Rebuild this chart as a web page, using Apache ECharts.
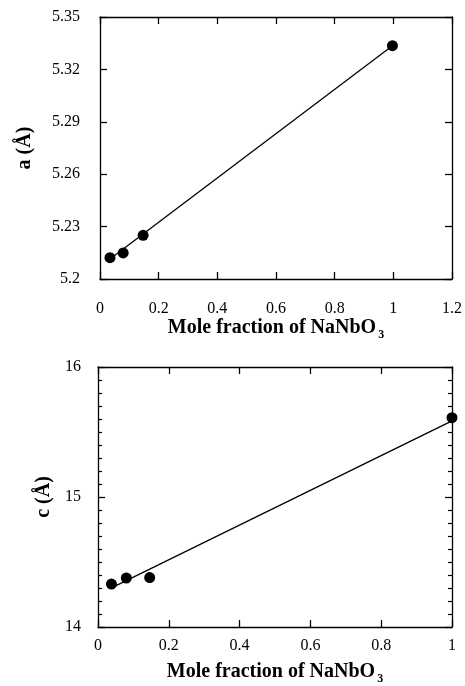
<!DOCTYPE html>
<html>
<head>
<meta charset="utf-8">
<script src="https://cdn.jsdelivr.net/npm/echarts@6/dist/echarts.min.js"></script>
<style>
  html, body { margin: 0; padding: 0; background: #fff; }
  #container { width: 465px; height: 686px; }
</style>
</head>
<body>
<div id="container"></div>
<script>
// 上图: 晶格参数 a
var fractionA = [0.034, 0.079, 0.147, 0.997]
var valuesA = [5.2122, 5.2149, 5.2250, 5.3336]
var fitA = [[0.034, 5.2115], [0.997, 5.3336]]

// 下图: 晶格参数 c
var fractionC = [0.038, 0.080, 0.146, 1.0]
var valuesC = [14.33, 14.377, 14.38, 15.61]
var fitC = [[0.041, 14.305], [1.0, 15.585]]

var font = 'Liberation Serif'

var pairs = function (xs, ys) {
    var out = []
    for (let i = 0; i < xs.length; i++) {
        out.push([xs[i], ys[i]])
    }
    return out
}

var axisBase = function () {
    return {
        axisLine: { show: true, onZero: false, lineStyle: { color: '#000', width: 1.3 } },
        axisTick: { show: true, inside: true, length: 7, lineStyle: { color: '#000', width: 1.3 } },
        splitLine: { show: false },
        axisLabel: { color: '#000', fontFamily: font, fontSize: 16 },
    }
}

var titleStyle = {
    color: '#000', fontFamily: font, fontSize: 20, fontWeight: 'bold',
    rich: {
        sub: { fontFamily: font, fontSize: 12, fontWeight: 'bold', padding: [14, 0, 0, 2] },
    },
}

var makeX = function (grid, min, max, margin, gap, mirror) {
    var a = axisBase()
    a.type = 'value'
    a.gridIndex = grid
    a.min = min
    a.max = max
    a.interval = 0.2
    if (mirror) {
        a.position = 'top'
        a.axisLabel.show = false
    } else {
        a.position = 'bottom'
        a.name = 'Mole fraction of NaNbO{sub|3}'
        a.nameLocation = 'middle'
        a.nameGap = gap
        a.nameTextStyle = titleStyle
        a.axisLabel.margin = margin
        a.axisLabel.formatter = function (v) { return String(Math.round(v * 10) / 10) }
    }
    return a
}

var makeY = function (grid, min, max, interval, name, margin, gap, mirror, minor) {
    var a = axisBase()
    a.type = 'value'
    a.gridIndex = grid
    a.min = min
    a.max = max
    a.interval = interval
    if (minor) {
        a.minorTick = { show: true, splitNumber: 10, length: 4, lineStyle: { color: '#000', width: 1.2 } }
    }
    if (mirror) {
        a.position = 'right'
        a.axisLabel.show = false
    } else {
        a.position = 'left'
        a.name = name
        a.nameLocation = 'middle'
        a.nameGap = gap
        a.nameTextStyle = { color: '#000', fontFamily: font, fontSize: 20, fontWeight: 'bold' }
        a.axisLabel.margin = margin
        a.axisLabel.formatter = function (v) { return String(Math.round(v * 100) / 100) }
    }
    return a
}

var scatter = function (idx, data) {
    return {
        type: 'scatter', xAxisIndex: idx, yAxisIndex: idx,
        data: data, symbolSize: 11,
        itemStyle: { color: '#000', opacity: 1 },
        z: 3,
    }
}

var fit = function (idx, data) {
    return {
        type: 'line', xAxisIndex: idx, yAxisIndex: idx,
        data: data, showSymbol: false, symbol: 'none',
        lineStyle: { color: '#000', width: 1.3 },
    }
}

const chartMain = function () {
    var myChart = echarts.init(document.getElementById('container'))

    var option = {
        animation: false,
        backgroundColor: '#fff',
        grid: [
            { left: 100, top: 17, width: 352, height: 262 },
            { left: 98, top: 367, width: 354, height: 261 },
        ],
        xAxis: [
            makeX(0, 0, 1.2, 22, 28, false),
            makeX(1, 0, 1, 11, 32, false),
            makeX(0, 0, 1.2, 0, 0, true),
            makeX(1, 0, 1, 0, 0, true),
        ],
        yAxis: [
            makeY(0, 5.2, 5.35, 0.03, 'a (Å)', 20, 65, false, false),
            makeY(1, 14, 16, 1, 'c (Å)', 17, 41, false, true),
            makeY(0, 5.2, 5.35, 0.03, '', 0, 0, true, false),
            makeY(1, 14, 16, 1, '', 0, 0, true, true),
        ],
        series: [
            fit(0, fitA),
            scatter(0, pairs(fractionA, valuesA)),
            fit(1, fitC),
            scatter(1, pairs(fractionC, valuesC)),
        ],
    }

    myChart.setOption(option, true)
}

chartMain()
</script>
</body>
</html>
